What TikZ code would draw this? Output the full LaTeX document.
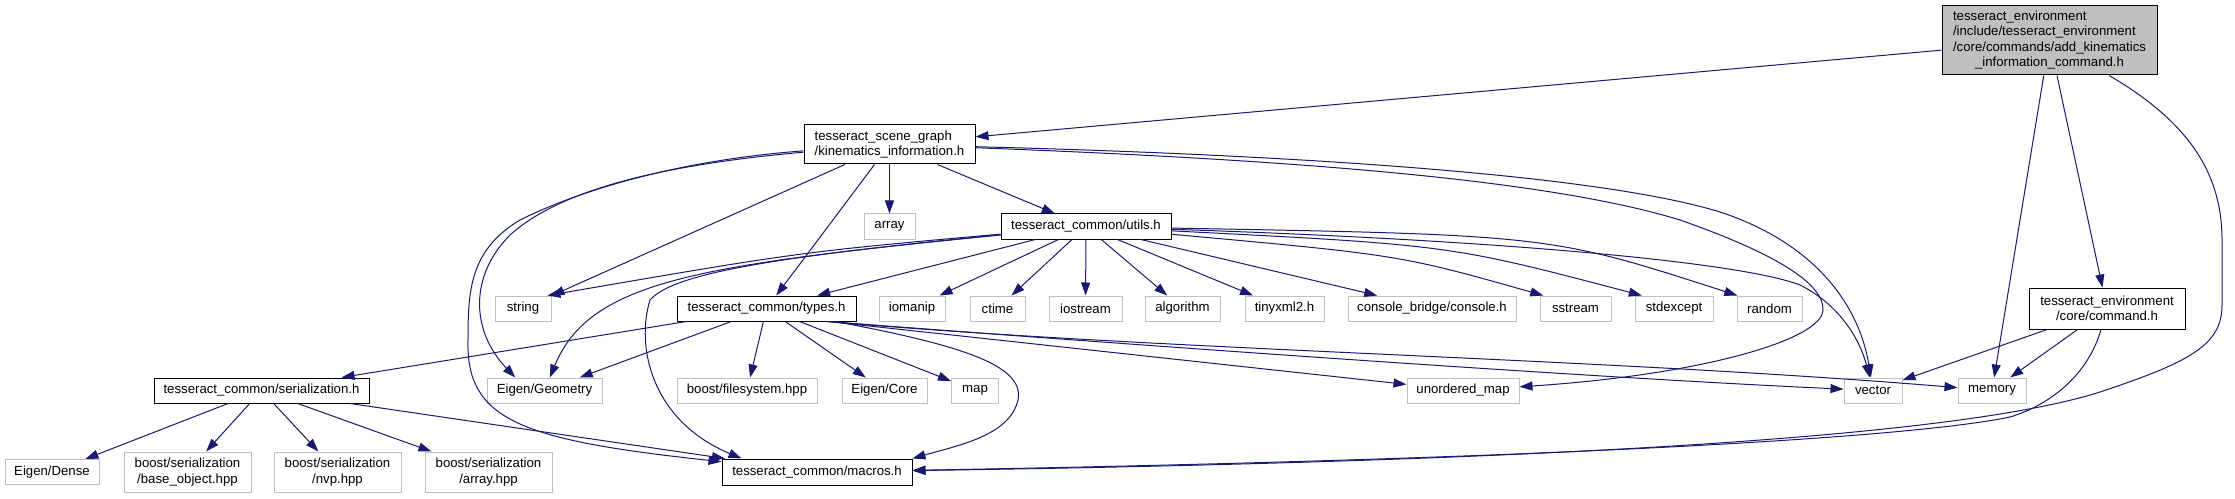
\documentclass[tikz,border=0pt]{standalone}
\usepackage{fontspec}
\setmainfont{Liberation Sans}
\usetikzlibrary{arrows.meta}
\definecolor{edgeblue}{HTML}{191970}
\definecolor{extgray}{HTML}{BFBFBF}

\begin{document}
\begin{tikzpicture}[x=0.75pt, y=-0.75pt, line width=0.75pt,
  every node/.style={font=\fontsize{9.9pt}{11.5pt}\selectfont, inner sep=0pt, minimum height=18.75pt},
  ext/.style={draw=extgray, fill=white, minimum width=#1},
  inc/.style={draw=black, fill=white, minimum width=#1},
  dep/.style={draw=edgeblue, -{Triangle[length=9.75pt, width=6.75pt]}}]
  \fill[white] (0,0) rectangle (2235,499);
  \useasboundingbox (0,0) rectangle (2235,499);

  % header files
  \node[draw=black, fill=extgray, minimum width=161.25pt, minimum height=51.75pt] (root) at (2049.5,40.5)
    {\begin{tabular}{@{}l@{}}tesseract\_environment\\/include/tesseract\_environment\\/core/commands/add\_kinematics\\\multicolumn{1}{@{}c@{}}{\_information\_command.h}\end{tabular}};
  \node[inc=128.25pt, minimum height=29.25pt, align=left] (kin) at (889.5,144.5) {tesseract\_scene\_graph\\/kinematics\_information.h};
  \node[ext=38.25pt] (arr) at (889.5,226.5) {array};
  \node[inc=127.5pt] (utils) at (1086,226.5) {tesseract\_common/utils.h};
  \node[ext=42pt] (string) at (523,308.5) {string};
  \node[inc=134.25pt] (types) at (766.5,308.5) {tesseract\_common/types.h};
  \node[ext=49.5pt] (iomanip) at (912,308.5) {iomanip};
  \node[ext=41.25pt] (ctime) at (997.5,308.5) {ctime};
  \node[ext=54.75pt] (iostream) at (1085.5,308.5) {iostream};
  \node[ext=56.25pt] (algorithm) at (1182.5,308.5) {algorithm};
  \node[ext=59.25pt] (tinyxml) at (1284.5,308.5) {tinyxml2.h};
  \node[ext=126pt] (console) at (1432,308.5) {console\_bridge/console.h};
  \node[ext=53.25pt] (sstream) at (1575.5,308.5) {sstream};
  \node[ext=58.5pt] (stdexcept) at (1674,308.5) {stdexcept};
  \node[ext=48.75pt] (random) at (1769.5,308.5) {random};
  \node[inc=117pt, minimum height=30.75pt, align=center] (command) at (2107,308.5) {tesseract\_environment\\/core/command.h};
  \node[inc=161.25pt] (serial) at (261.5,390.5) {tesseract\_common/serialization.h};
  \node[ext=86.25pt] (eigengeo) at (544.5,390.5) {Eigen/Geometry};
  \node[ext=105pt] (filesystem) at (747,390.5) {boost/filesystem.hpp};
  \node[ext=63.75pt] (eigencore) at (884.5,390.5) {Eigen/Core};
  \node[ext=35.25pt] (map) at (975,390.5) {map};
  \node[ext=84pt] (umap) at (1463,390.5) {unordered\_map};
  \node[ext=43.5pt] (vector) at (1873,390.5) {vector};
  \node[ext=51pt] (memory) at (1992,390.5) {memory};
  \node[ext=70.5pt] (dense) at (52,472) {Eigen/Dense};
  \node[ext=95.25pt, minimum height=30pt, align=center] (baseobj) at (187.5,472) {boost/serialization\\/base\_object.hpp};
  \node[ext=95.25pt, minimum height=30pt, align=center] (nvp) at (337.5,472) {boost/serialization\\/nvp.hpp};
  \node[ext=95.25pt, minimum height=30pt, align=center] (sarray) at (488.5,472) {boost/serialization\\/array.hpp};
  \node[inc=142.5pt, minimum height=19.5pt] (macros) at (817,472) {tesseract\_common/macros.h};

  % includes of the command header
  \draw[dep] (root) -- (kin);
  \draw[dep] (root) -- (memory);
  \draw[dep] (root) -- (command);
  \draw[dep] (root) .. controls (2185,120) and (2222,170) .. (2222,240) -- (2222,305)
    .. controls (2222,345) and (2190,362) .. (2100,392) .. controls (1950,440) and (1500,462) .. (macros);

  \draw[dep] (kin) -- (string);
  \draw[dep] (kin) -- (types);
  \draw[dep] (kin) -- (arr);
  \draw[dep] (kin) -- (utils);
  \draw[dep] (kin) .. controls (660,165) and (560,190) .. (510,235) .. controls (470,275) and (470,330) .. (eigengeo.156);
  \draw[dep] (kin) .. controls (680,160) and (580,190) .. (520,220) .. controls (470,250) and (468,290) .. (468,340)
    .. controls (466,420) and (520,440) .. (macros);
  \draw[dep] (kin) .. controls (1300,155) and (1600,175) .. (1720,212) .. controls (1820,245) and (1860,310) .. (vector);
  \draw[dep] (kin) .. controls (1300,160) and (1550,180) .. (1680,220) .. controls (1780,255) and (1824,285) .. (1823,310)
    .. controls (1822,340) and (1700,375) .. (umap);

  \draw[dep] (utils) .. controls (800,252) .. (string.28);
  \draw[dep] (utils) .. controls (700,265) and (590,280) .. (eigengeo);
  \draw[dep] (utils) .. controls (760,258) and (672,275) .. (650,300) .. controls (636,345) and (650,420) .. ([xshift=15pt]macros.north west);
  \draw[dep] (utils) -- (types);
  \draw[dep] (utils) -- (iomanip);
  \draw[dep] (utils) -- (ctime);
  \draw[dep] (utils) -- (iostream);
  \draw[dep] (utils) -- (algorithm);
  \draw[dep] (utils) -- (tinyxml);
  \draw[dep] (utils) -- (console);
  \draw[dep] (utils) .. controls (1400,255) .. (sstream.158);
  \draw[dep] (utils) .. controls (1450,245) .. (stdexcept.158);
  \draw[dep] (utils) .. controls (1550,235) .. (random.158);
  \draw[dep] (utils) .. controls (1500,240) and (1740,262) .. (1800,285) .. controls (1840,305) and (1860,340) .. (vector);

  \draw[dep] (types) -- (serial);
  \draw[dep] (types) -- (eigengeo);
  \draw[dep] (types) -- (filesystem);
  \draw[dep] (types) -- (eigencore);
  \draw[dep] (types) -- (map);
  \draw[dep] (types) .. controls (960,345) and (1025,365) .. (1018,400) .. controls (1010,435) and (960,445) .. (macros.north east);
  \draw[dep] (types.-12) -- (umap);
  \draw[dep] (types.-12) .. controls (1200,350) and (1600,378) .. (vector);
  \draw[dep] (types.-12) .. controls (1150,350) and (1600,358) .. (memory);

  \draw[dep] (serial) -- (dense);
  \draw[dep] (serial) -- (baseobj);
  \draw[dep] (serial) -- (nvp);
  \draw[dep] (serial) -- (sarray);
  \draw[dep] (serial) -- (macros);

  \draw[dep] (command) -- (vector);
  \draw[dep] (command) -- (memory);
  \draw[dep] (command) .. controls (2088,375) and (2050,405) .. (2010,417) .. controls (1900,440) and (1500,460) .. (macros);
\end{tikzpicture}
\end{document}
